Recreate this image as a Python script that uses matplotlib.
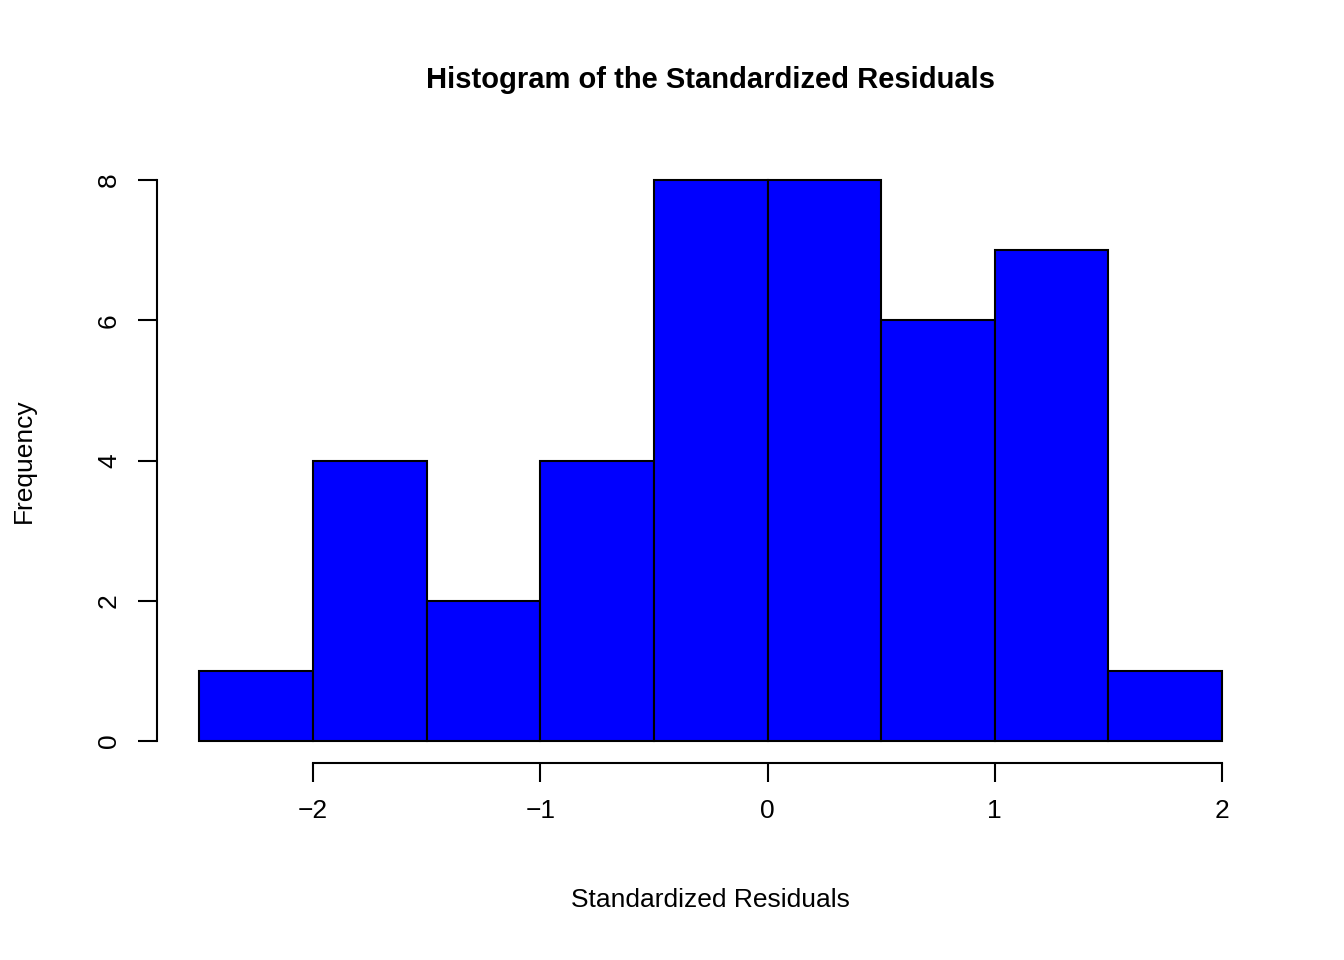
import matplotlib
matplotlib.use("Agg")
import matplotlib.pyplot as plt

edges = [-2.5, -2.0, -1.5, -1.0, -0.5, 0.0, 0.5, 1.0, 1.5, 2.0]
counts = [1, 4, 2, 4, 8, 8, 6, 7, 1]
xticks = [-2, -1, 0, 1, 2]
yticks = [0, 2, 4, 6, 8]

plt.rcParams['font.family'] = ['Liberation Sans', 'DejaVu Sans']

fig = plt.figure(figsize=(13.44, 9.6), dpi=100)
ax = fig.add_axes([150/1344, 1-780/960, 1100/1344, 660/960])
ax.hist(edges[:-1], bins=edges, weights=counts, color='#0000ff', edgecolor='black', linewidth=1.5)
ax.set_xlim(-2.717, 2.123)
ax.set_ylim(-0.556, 8.856)

for s in ['top', 'right']:
    ax.spines[s].set_visible(False)
ax.spines['left'].set_position(('data', -2.686))
ax.spines['left'].set_bounds(0, 8)
ax.spines['bottom'].set_position(('data', -0.314))
ax.spines['bottom'].set_bounds(-2, 2)
for s in ['left', 'bottom']:
    ax.spines[s].set_linewidth(1.5)

ax.set_xticks(xticks)
ax.set_yticks(yticks)
ax.tick_params(length=14, width=1.5, labelsize=19, pad=12)
for lab in ax.get_yticklabels():
    lab.set_rotation(90)
    lab.set_va('center')

fig.text(710/1344, 1-900/960, 'Standardized Residuals', ha='center', va='center', fontsize=19)
fig.text(24/1344, 1-461/960, 'Frequency', ha='center', va='center', fontsize=19, rotation=90)
fig.text(710/1344, 1-80/960, 'Histogram of the Standardized Residuals', ha='center', va='center',
         fontsize=21, fontweight='bold')

fig.savefig('out.png', dpi=100)
